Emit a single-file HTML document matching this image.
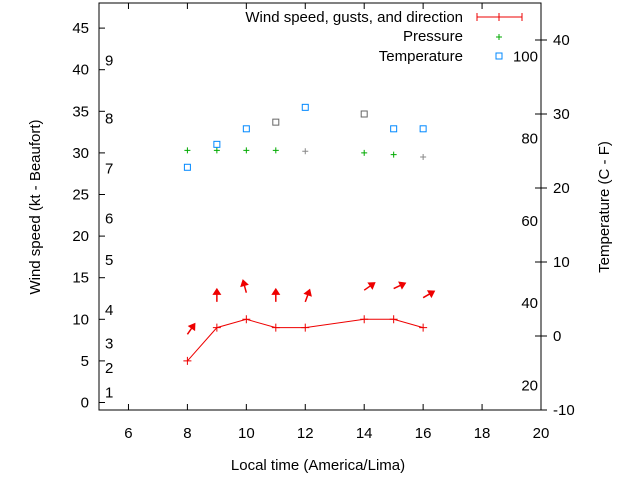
<!DOCTYPE html>
<html><head><meta charset="utf-8"><style>
body{margin:0;background:#fff}
svg text{font-family:"Liberation Sans",sans-serif;font-size:15px;fill:#000}
</style></head><body>
<svg width="640" height="480" id="c">
<rect x="99" y="3" width="442" height="407" fill="none" stroke="#000"/>
<g id="ax"></g><g id="marks"></g>
<text x="318" y="470" text-anchor="middle">Local time (America/Lima)</text>
<text transform="translate(40,207) rotate(-90)" text-anchor="middle">Wind speed (kt - Beaufort)</text>
<text transform="translate(609,207) rotate(-90)" text-anchor="middle">Temperature (C - F)</text>
<g>
<text x="463" y="22" text-anchor="end">Wind speed, gusts, and direction</text>
<path d="M477 17H522M477 13V21M522 13V21M499 13V21" stroke="#e00"/>
<text x="463" y="41" text-anchor="end">Pressure</text>
<path d="M496 37H502M499 34V40" stroke="#0a0"/>
<text x="463" y="61" text-anchor="end">Temperature</text>
<rect x="496" y="53" width="6" height="6" fill="none" stroke="#08f"/>
</g>
</svg>
<script>
const hours=[8,9,10,11,12,14,15,16];
const windSpeed=[5,9,10,9,9,10,10,9];
const arrowBase=[8.2,12.1,13.2,12.1,12.1,13.5,13.7,12.6];
const windDir=[35,0,-15,0,20,55,65,60];
const pressure=[30.3,30.3,30.3,30.3,30.2,30,29.8,29.5];
const pressureGray=[false,false,false,false,true,false,false,true];
const tempC=[22.8,25.9,28,28.9,30.9,30,28,28];
const tempGray=[false,false,false,true,false,true,false,false];
const xTicks=[6,8,10,12,14,16,18,20];
const yTicks=[0,5,10,15,20,25,30,35,40,45];
const cTicks=[-10,0,10,20,30,40];
const fTicks=[20,40,60,80,100];
const beaufortLabels=["1","2","3","4","5","6","7","8","9"];
const beaufortKt=[1.1,4,7,11,17,22,28,34,41];

const L=99,R=541,T=3,B=410;
const X=v=>L+(v-5)/15*(R-L);
const Y=v=>402.5-v*8.32;
const YC=v=>B-(v+10)/55*(B-T);
const YF=f=>YC((f-32)*5/9);
const NS="http://www.w3.org/2000/svg";
const ax=document.getElementById('ax'),mk=document.getElementById('marks');
function el(p,t,a){const e=document.createElementNS(NS,t);for(const k in a)e.setAttribute(k,a[k]);p.appendChild(e);return e;}
xTicks.forEach(v=>{
 const t=el(ax,'path',{d:`M${X(v)} ${B}v-6M${X(v)} ${T}v6`,stroke:'#000'});
 
 
 const l=el(ax,'text',{x:X(v),y:B+28,'text-anchor':'middle'});l.textContent=v;
 
 
});
yTicks.forEach(v=>{
 const t=el(ax,'path',{d:`M${L} ${Y(v)}h6`,stroke:'#000'});
 
 
 const l=el(ax,'text',{x:L-10,y:Y(v)+5,'text-anchor':'end'});l.textContent=v;
 
 
});
cTicks.forEach(v=>{
 const t=el(ax,'path',{d:`M${R-6} ${YC(v)}h12`,stroke:'#000'});
 
 
 const l=el(ax,'text',{x:R+12,y:YC(v)+5});l.textContent=v;
 
 
});
fTicks.forEach(v=>{
 const l=el(ax,'text',{x:R-3,y:YF(v)+5,'text-anchor':'end'});l.textContent=v;
 
 
});
beaufortLabels.forEach((s,i)=>{
 const l=el(ax,'text',{x:105,y:Y(beaufortKt[i])+4});l.textContent=s;
 
 
});
const ln=el(mk,'polyline',{points:hours.map((h,i)=>X(h)+','+Y(windSpeed[i])).join(' '),fill:'none',stroke:'#e00'});


hours.forEach((h,i)=>{
 const x=X(h),y=Y(windSpeed[i]);
 const p=el(mk,'path',{d:`M${x-4} ${y}h8M${x} ${y-4}v8`,stroke:'#e00'});
 
 
 const by=Y(arrowBase[i]);
 const g=el(mk,'g',{transform:`translate(${x},${by}) rotate(${windDir[i]})`});
 
 
 el(g,'path',{d:'M0 0V-10',stroke:'#e00','stroke-width':1.5});
 el(g,'path',{d:'M-4.5 -7L0 -14L4.5 -7Z',fill:'#e00'});
 const py=Y(pressure[i]),c=pressureGray[i]?'#888':'#0a0';
 const pp=el(mk,'path',{d:`M${x-3} ${py}h6M${x} ${py-3}v6`,stroke:c});
 
 
 const ty=YC(tempC[i]);
 const tr=el(mk,'rect',{x:x-3,y:ty-3,width:6,height:6,fill:'none',stroke:tempGray[i]?'#666':'#08f'});
 
 
});
</script>
</body></html>
